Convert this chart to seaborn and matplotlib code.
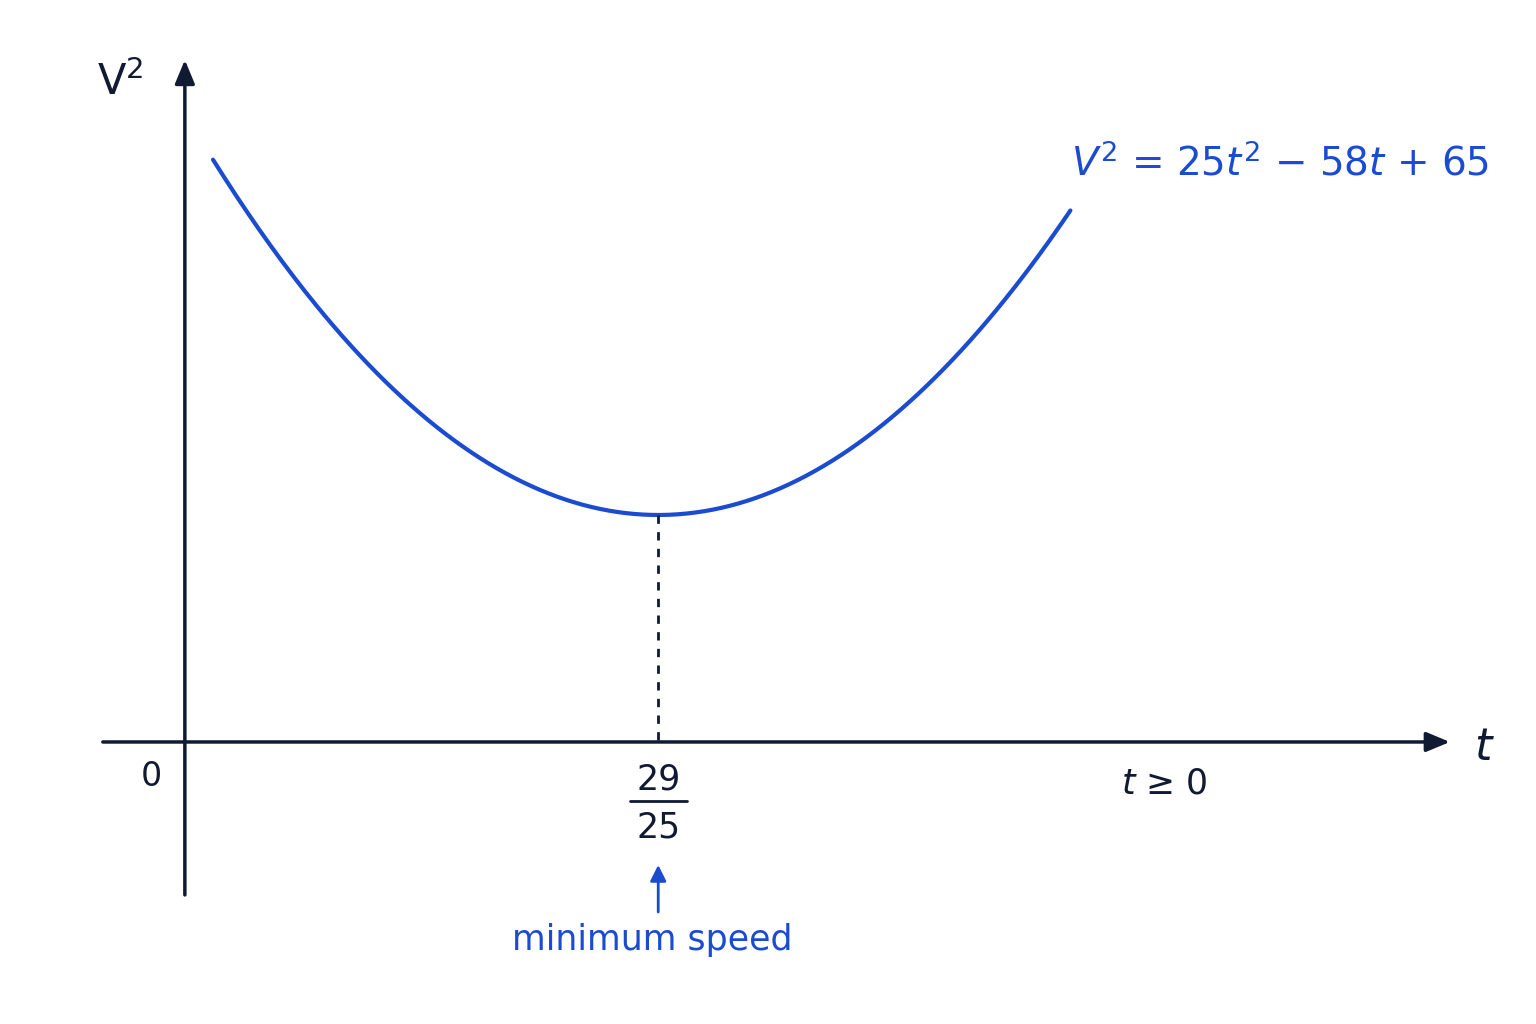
import numpy as np
import matplotlib
matplotlib.use("Agg")
import matplotlib.pyplot as plt
import seaborn as sns

sns.set_theme(style="white")
plt.rcParams['font.family'] = ['DejaVu Sans']

coeffs = [25, -58, 65]          # V^2 = 25t^2 - 58t + 65
t_range = [0.069, 2.17]
t_min = 29 / 25
axis_level = 12.35               # V^2 value where the drawn t-axis sits (schematic)

blue = "#1a4bd1"
navy = "#111a33"

t = np.linspace(t_range[0], t_range[1], 300)
v2 = np.polyval(coeffs, t)
v2_min = np.polyval(coeffs, t_min)

fig = plt.figure(figsize=(15.36, 10.24), dpi=100)
ax = fig.add_axes([0, 0, 1, 1])
ax.set_xlim(-0.453, 3.311)
ax.set_ylim(-11.27, 74.49)
ax.axis("off")

sns.lineplot(x=t, y=v2, ax=ax, color=blue, lw=3)

ap = dict(arrowstyle="-|>,head_length=1.2,head_width=0.5", color=navy, lw=2.5, shrinkA=0, shrinkB=0)
ax.annotate("", xy=(0, 69.47), xytext=(0, -0.46), arrowprops=ap)
ax.annotate("", xy=(3.10, axis_level), xytext=(-0.201, axis_level), arrowprops=ap)

ax.plot([t_min, t_min], [v2_min, axis_level], ls=(0, (3, 3)), color=navy, lw=2)

ax.text(-0.159, 67.6, "V$^2$", fontsize=30, color=navy, ha="center", va="center")
ax.text(3.18, 11.9, "t", fontsize=32, style="italic", color=navy, ha="center", va="center")
ax.text(-0.081, 9.42, "0", fontsize=24, color=navy, ha="center", va="center")
ax.text(t_min, 9.2, "29", fontsize=25, color=navy, ha="center", va="center")
ax.plot([t_min - 0.07, t_min + 0.07], [7.4, 7.4], color=navy, lw=2)
ax.text(t_min, 5.2, "25", fontsize=25, color=navy, ha="center", va="center")
ax.text(2.40, 8.9, "$t$ ≥ 0", fontsize=25, color=navy, ha="center", va="center")
ax.annotate("", xy=(t_min, 2.05), xytext=(t_min, -1.89),
            arrowprops=dict(arrowstyle="-|>,head_length=0.8,head_width=0.4", color=blue, lw=2, shrinkA=0, shrinkB=0))
ax.text(t_min - 0.015, -4.23, "minimum speed", fontsize=25, color=blue, ha="center", va="center")
ax.text(2.684, 60.8, "$V^2$ = 25$t^2$ − 58$t$ + 65", fontsize=28, color=blue, ha="center", va="center")

fig.savefig("out.png", dpi=100, facecolor="white")
